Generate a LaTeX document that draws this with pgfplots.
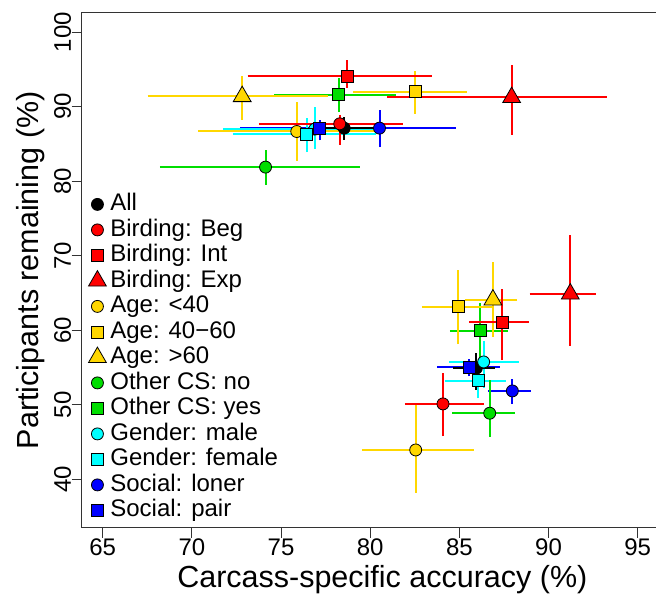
\documentclass[border=0pt]{standalone}
\usepackage{fontspec}
\setmainfont{Liberation Sans}
\usepackage{pgfplots}
\pgfplotsset{compat=1.18}
\definecolor{rred}{RGB}{255,0,0}
\definecolor{rgold}{RGB}{255,215,0}
\definecolor{rgreen}{RGB}{0,222,0}
\definecolor{rcyan}{RGB}{0,255,255}
\definecolor{rblue}{RGB}{0,0,255}
\pgfplotsset{
  bar/.style={forget plot, color=#1, draw=#1, line width=2pt, mark=none, line cap=butt},
  pc/.style={only marks, mark=*, mark size=6pt, fill=#1, draw=black, line width=0.8pt},
  ps/.style={only marks, mark=square*, mark size=6pt, fill=#1, draw=black, line width=0.8pt},
  pt/.style={only marks, mark=triangle*, mark size=10.3pt, fill=#1, draw=black, line width=0.8pt},
}
\begin{document}
\begin{tikzpicture}
\path[use as bounding box] (0,0) rectangle (656pt,595pt);
\begin{axis}[
  at={(81.7pt,67.3pt)}, anchor=south west,
  scale only axis, width=601.3pt, height=515pt,
  xmin=63.82, xmax=97.54, ymin=33.5, ymax=102.6,
  xtick={65,70,...,95}, ytick={40,50,...,100},
  unbounded coords=jump,
  xticklabel={\fontsize{24}{28}\selectfont\pgfmathprintnumber[assume math mode=true]{\tick}},
  yticklabel={\fontsize{24}{28}\selectfont\pgfmathprintnumber[assume math mode=true]{\tick}},
  tick align=outside, major tick length=10pt,
  xtick pos=lower, ytick pos=left,
  axis line style={line width=0.9pt, black!80},
  tick style={line width=0.9pt, black!80},
  xticklabel style={inner sep=1pt},
  yticklabel style={rotate=90, anchor=south, inner xsep=0pt, inner ysep=0.5pt},
  xlabel={Carcass-specific accuracy (\%)},
  ylabel={Participants remaining (\%)},
  every axis x label/.style={at={(axis description cs:0.5,0)}, anchor=center, yshift=-52pt, font=\fontsize{30.5}{34}\selectfont},
  every axis y label/.style={at={(axis description cs:0,0.5)}, xshift=-51pt, rotate=90, anchor=center, font=\fontsize{30.5}{34}\selectfont},
  legend style={at={(axis description cs:0.011,0.65)}, anchor=north west, draw=none, fill=none,
    inner sep=0pt, font=\fontsize{24}{28}\selectfont, row sep=3pt, column sep=4pt,
    nodes={inner sep=0pt, text height=17.5pt, text depth=5pt}},
  legend cell align=left,
  legend image code/.code={\draw[#1] plot coordinates {(0pt,0pt)};},
]
% ---- confidence intervals: horizontal and vertical segments (drawn first)
% Social: pair
\addplot[bar=rblue] coordinates {(74.67,87.06) (80.17,87.06) (nan,nan) (77.17,85.46) (77.17,88.16) (nan,nan)
  (83.75,55.03) (87.26,55.03) (nan,nan) (85.54,53.80) (85.54,56.10)};
% Social: loner
\addplot[bar=rblue] coordinates {(72.69,87.11) (84.79,87.11) (nan,nan) (80.52,84.56) (80.52,89.57) (nan,nan)
  (86.60,51.85) (89.00,51.85) (nan,nan) (87.97,50.07) (87.97,53.46)};
% Gender: female
\addplot[bar=rcyan] coordinates {(72.32,86.26) (80.35,86.26) (nan,nan) (76.43,83.89) (76.43,88.46) (nan,nan)
  (84.18,53.20) (87.63,53.20) (nan,nan) (86.06,50.90) (86.06,55.50)};
% Gender: male
\addplot[bar=rcyan] coordinates {(71.76,86.98) (80.35,86.98) (nan,nan) (76.89,84.34) (76.89,89.93) (nan,nan)
  (84.42,55.74) (88.32,55.74) (nan,nan) (86.36,52.30) (86.36,58.50)};
% Other CS: yes
\addplot[bar=rgreen] coordinates {(74.61,91.58) (81.47,91.58) (nan,nan) (78.24,89.34) (78.24,93.83) (nan,nan)
  (84.46,59.95) (87.72,59.95) (nan,nan) (86.18,56.00) (86.18,63.60)};
% Other CS: no
\addplot[bar=rgreen] coordinates {(68.21,81.88) (79.45,81.88) (nan,nan) (74.13,79.50) (74.13,84.20) (nan,nan)
  (84.59,48.86) (88.14,48.86) (nan,nan) (86.70,45.72) (86.70,53.33)};
% Age: >60
\addplot[bar=rgold] coordinates {(67.52,91.36) (77.64,91.36) (nan,nan) (72.82,88.23) (72.82,94.13) (nan,nan)
  (85.30,64.07) (88.23,64.07) (nan,nan) (86.88,59.14) (86.88,69.13)};
% Age: 40-60
\addplot[bar=rgold] coordinates {(79.04,91.99) (85.45,91.99) (nan,nan) (82.53,89.03) (82.53,94.71) (nan,nan)
  (82.90,63.17) (86.88,63.17) (nan,nan) (84.92,58.12) (84.92,68.10)};
% Age: <40
\addplot[bar=rgold] coordinates {(70.36,86.66) (80.35,86.66) (nan,nan) (75.88,82.72) (75.88,90.60) (nan,nan)
  (79.53,43.93) (85.81,43.93) (nan,nan) (82.55,38.20) (82.55,49.99)};
% Birding: Exp
\addplot[bar=rred] coordinates {(80.94,91.23) (93.25,91.23) (nan,nan) (87.93,86.20) (87.93,95.60) (nan,nan)
  (88.94,64.87) (92.67,64.87) (nan,nan) (91.22,57.90) (91.22,72.80)};
% Birding: Int
\addplot[bar=rred] coordinates {(73.12,94.04) (83.49,94.04) (nan,nan) (78.70,92.54) (78.70,96.30) (nan,nan)
  (85.54,61.11) (88.90,61.11) (nan,nan) (87.39,56.00) (87.39,65.50)};
% Birding: Beg
\addplot[bar=rred] coordinates {(73.76,87.69) (81.84,87.69) (nan,nan) (78.29,84.87) (78.29,88.89) (nan,nan)
  (81.94,50.11) (86.38,50.11) (nan,nan) (84.08,45.80) (84.08,54.20)};
% All
\addplot[bar=black] coordinates {(76.54,87.11) (80.54,87.11) (nan,nan) (78.54,85.54) (78.54,88.67) (nan,nan)
  (84.64,54.90) (86.98,54.90) (nan,nan) (85.95,52.00) (85.95,56.90)};
% ---- point estimates
\addplot[pc=black] coordinates {(78.54,87.11) (85.95,54.90)};\addlegendentry{All}
\addplot[pc=rred] coordinates {(78.29,87.69) (84.08,50.11)};\addlegendentry{Birding: Beg}
\addplot[ps=rred] coordinates {(78.70,94.04) (87.39,61.11)};\addlegendentry{Birding: Int}
\addplot[pt=rred] coordinates {(87.93,91.23) (91.22,64.87)};\addlegendentry{Birding: Exp}
\addplot[pc=rgold] coordinates {(75.88,86.66) (82.55,43.93)};\addlegendentry{Age: <40}
\addplot[ps=rgold] coordinates {(82.53,91.99) (84.92,63.17)};\addlegendentry{Age: 40−60}
\addplot[pt=rgold] coordinates {(72.82,91.36) (86.88,64.07)};\addlegendentry{Age: >60}
\addplot[pc=rgreen] coordinates {(74.13,81.88) (86.70,48.86)};\addlegendentry{Other CS: no}
\addplot[ps=rgreen] coordinates {(78.24,91.58) (86.18,59.95)};\addlegendentry{Other CS: yes}
\addplot[pc=rcyan] coordinates {(76.89,86.98) (86.36,55.74)};\addlegendentry{Gender: male}
\addplot[ps=rcyan] coordinates {(76.43,86.26) (86.06,53.20)};\addlegendentry{Gender: female}
\addplot[pc=rblue] coordinates {(80.52,87.11) (87.97,51.85)};\addlegendentry{Social: loner}
\addplot[ps=rblue] coordinates {(77.17,87.06) (85.54,55.03)};\addlegendentry{Social: pair}
\end{axis}
\end{tikzpicture}
\end{document}
